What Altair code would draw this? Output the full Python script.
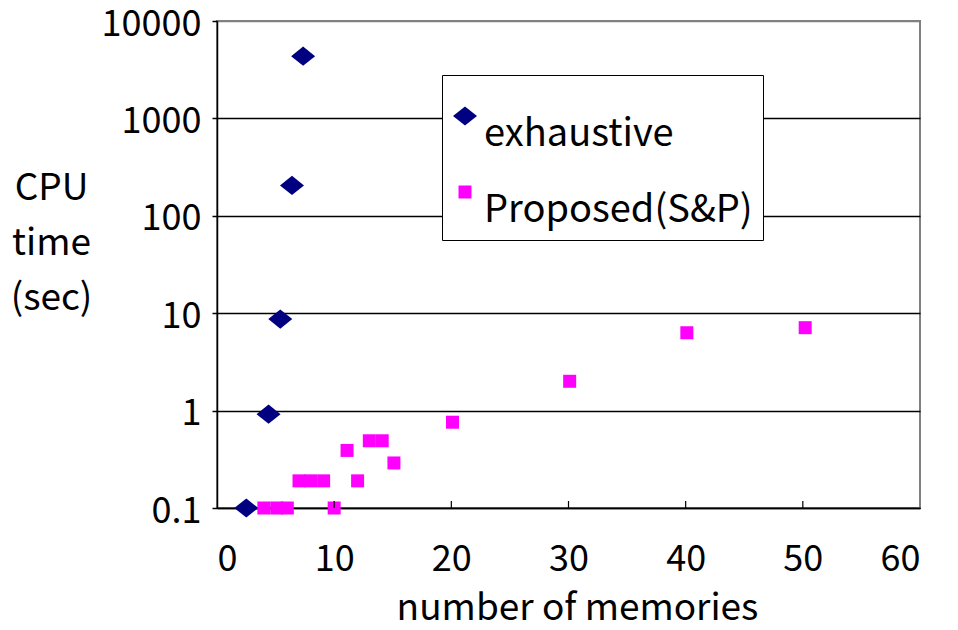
import altair as alt
import pandas as pd

# ---- data ----
series_names = ["exhaustive", "Proposed(S&P)"]
exh_x = [2.5, 4.4, 5.4, 6.4, 7.35]
exh_y = [0.1, 0.92, 8.7, 205, 4350]
prop_x = [4.0, 5.1, 6.0, 7.0, 8.0, 9.1, 10.0, 11.1, 12.0, 13.0, 14.1, 15.1, 20.1, 30.1, 40.1, 50.2]
prop_y = [0.1, 0.1, 0.1, 0.19, 0.19, 0.19, 0.1, 0.39, 0.19, 0.49, 0.49, 0.29, 0.76, 2.0, 6.3, 7.1]
x_ticks = [0, 10, 20, 30, 40, 50, 60]
y_ticks = [0.1, 1, 10, 100, 1000, 10000]

df = pd.DataFrame({
    "x": exh_x + prop_x,
    "y": exh_y + prop_y,
    "series": [series_names[0]] * len(exh_x) + [series_names[1]] * len(prop_x),
})
tick_df = pd.DataFrame({"x": x_ticks[1:-1]})

FONT = "Noto Sans CJK JP"
W, H = 703, 487
diamond = "M-1,0L0,-0.8L1,0L0,0.8Z"

legend = alt.Legend(
    title=None, orient="none", legendX=225, legendY=54,
    padding=10, strokeColor="black", fillColor="white",
    labelFontSize=38, labelFont=FONT, labelColor="black", labelLimit=500,
    rowPadding=7, clipHeight=62, symbolStrokeWidth=0, labelOffset=0,
    symbolOffset=-6, labelBaseline="top",
)

points = alt.Chart(df).mark_point(filled=True, opacity=1, strokeWidth=0, clip=False).encode(
    x=alt.X("x:Q", scale=alt.Scale(domain=[0, 60], nice=False, zero=False),
            axis=alt.Axis(values=x_ticks, title="number of memories", grid=False,
                          tickSize=0, labelPadding=62, labelBaseline="alphabetic",
                          titleX=360, titleY=111, titleBaseline="alphabetic",
                          titleAnchor="start", titleAlign="center")),
    y=alt.Y("y:Q", scale=alt.Scale(type="log", domain=[0.1, 10000], nice=False),
            axis=alt.Axis(values=y_ticks, format="~g", title=["CPU", "time", "(sec)"],
                          grid=True,
                          gridColor={"condition": {"test": "datum.value >= 10000", "value": "#808080"},
                                     "value": "black"},
                          gridWidth=1.5,
                          tickSize=5, labelPadding=11, labelOffset=3,
                          titleAngle=0, titleAlign="center", titleBaseline="middle",
                          titleX=-166, titleY=167, titleLineHeight=55)),
    color=alt.Color("series:N", scale=alt.Scale(domain=series_names, range=["#000080", "#FF00FF"]), legend=legend),
    shape=alt.Shape("series:N", scale=alt.Scale(domain=series_names, range=[diamond, "square"]), legend=legend),
    size=alt.Size("series:N", scale=alt.Scale(domain=series_names, range=[576, 169]), legend=legend),
)

ticks = alt.Chart(tick_df).mark_rule(color="black", strokeWidth=1.2).encode(
    x=alt.X("x:Q"),
    y=alt.value(H - 7),
    y2=alt.value(H),
)

chart = alt.layer(points, ticks).properties(
    width=W, height=H,
    autosize=alt.AutoSizeParams(type="none"),
    padding={"left": 209, "top": 13, "right": 25, "bottom": 113},
).configure_view(
    stroke="#808080", strokeWidth=2
).configure_axis(
    labelFont=FONT, titleFont=FONT, labelFontSize=36, titleFontSize=37,
    labelColor="black", titleColor="black", titleFontWeight="normal",
    domainColor="black", domainWidth=1.5, tickColor="black", tickWidth=1.5,
)

chart.save("out.html", embed_options={"renderer": "svg", "actions": False})
